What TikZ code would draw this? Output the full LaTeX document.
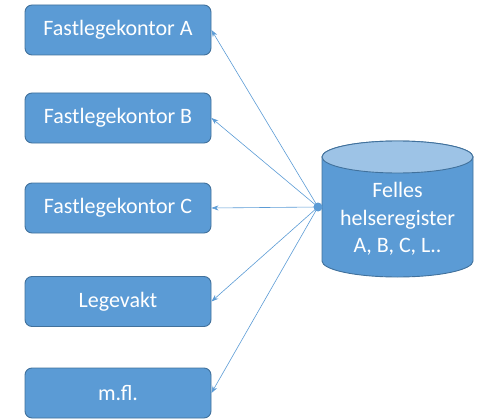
\documentclass[tikz,border=0pt]{standalone}
\usepackage{fontspec}
\setmainfont{Carlito}
\usetikzlibrary{arrows.meta}
\definecolor{boxfill}{HTML}{5B9BD5}
\definecolor{boxline}{HTML}{41719C}
\definecolor{toplight}{HTML}{9DC3E6}
\tikzset{
  office/.style={draw=boxline, fill=boxfill, line width=0.9pt, rounded corners=7pt,
    minimum width=186pt, minimum height=50pt, text=white, font=\fontsize{22}{26}\selectfont},
  link/.style={draw=boxfill, line width=0.6pt, -{Stealth[length=7pt,width=5pt]}}
}
\begin{document}
\begin{tikzpicture}[x=1pt,y=-1pt]
\useasboundingbox (0,0) rectangle (485,420);
% practice offices
\node[office] (a) at (118,30) {Fastlegekontor A};
\node[office] (b) at (118,118) {Fastlegekontor B};
\node[office] (c) at (118,208) {Fastlegekontor C};
\node[office] (l) at (118,301.5) {Legevakt};
\node[office] (m) at (118,393) {m.fl.};
% shared register drawn as a cylinder
\path[draw=boxline, fill=boxfill, line width=0.9pt]
  (322,157) -- (322,261) arc[start angle=180, end angle=0, x radius=75.5, y radius=16]
  -- (473,157) arc[start angle=0, end angle=-180, x radius=75.5, y radius=16] -- cycle;
\path[draw=boxline, fill=toplight, line width=0.9pt]
  (397.5,157) ellipse[x radius=75.5, y radius=16];
\node[text=white, align=center, font=\fontsize{22}{27.5}\selectfont] (reg) at (397.5,219) {Felles\\helseregister\\A, B, C, L..};
\coordinate (hub) at (318,207);
\draw[link] (hub) -- (a.east);
\draw[link] (hub) -- (b.east);
\draw[link] (hub) -- (c.east);
\draw[link] (hub) -- (l.east);
\draw[link] (hub) -- (m.east);
\fill[boxfill] (hub) circle[radius=4.5pt];
\end{tikzpicture}
\end{document}
